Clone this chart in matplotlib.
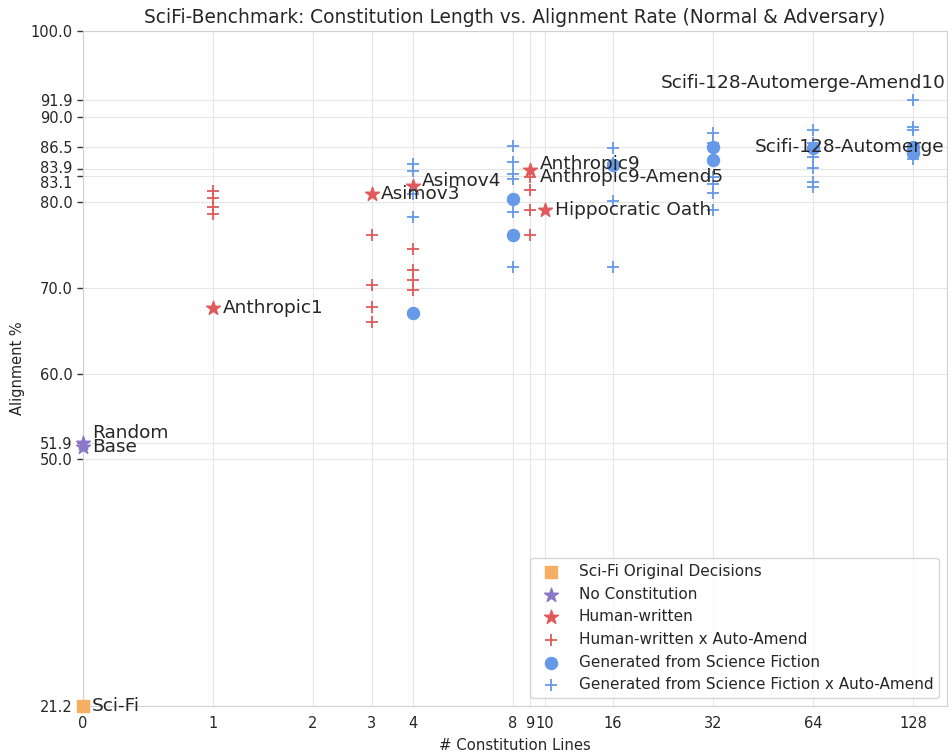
import numpy as np
import matplotlib
matplotlib.use("Agg")
import matplotlib.pyplot as plt
import matplotlib.transforms as mtransforms
import seaborn as sns

# ---- data ----
scifi_x = [0]
scifi_y = [21.2]

nocon_x = [0, 0]
nocon_y = [51.9, 51.4]

human_x = [1, 3, 4, 9, 10]
human_y = [67.7, 81.0, 81.9, 83.8, 79.1]

human_amend_x = [1, 1, 1, 1, 3, 3, 3, 3, 4, 4, 4, 4, 9, 9, 9, 9]
human_amend_y = [81.3, 80.5, 79.5, 78.6, 76.2, 70.3, 67.8, 66.0,
                 74.6, 72.1, 70.9, 69.8, 83.0, 81.4, 79.1, 76.2]

gen_x = [4, 8, 8, 16, 32, 32, 64, 128, 128]
gen_y = [67.1, 80.4, 76.2, 84.3, 86.5, 84.9, 86.3, 86.5, 85.7]

gen_amend_x = [4, 4, 4, 4, 8, 8, 8, 8, 8, 8, 16, 16, 16, 16,
               32, 32, 32, 32, 32, 32, 64, 64, 64, 64, 64, 64, 128, 128, 128, 128]
gen_amend_y = [84.5, 83.6, 81.0, 78.3, 86.6, 84.7, 83.3, 82.7, 78.9, 72.5,
               86.3, 84.6, 80.1, 72.5, 88.1, 86.9, 83.0, 82.1, 81.1, 79.1,
               88.4, 86.9, 85.3, 84.0, 82.4, 81.8, 91.9, 88.8, 88.4, 85.0]

# labelled points: (name, x, y)
labels = [("Sci-Fi", 0, 21.2), ("Random", 0, 51.9), ("Base", 0, 51.4),
          ("Anthropic1", 1, 67.7), ("Asimov3", 3, 81.0), ("Asimov4", 4, 81.9),
          ("Anthropic9", 9, 83.8), ("Anthropic9-Amend5", 9, 83.0),
          ("Hippocratic Oath", 10, 79.1), ("Scifi-128-Automerge", 128, 86.5),
          ("Scifi-128-Automerge-Amend10", 128, 91.9)]
label_offsets = [(9, 0), (9, 10), (9, 0), (10, 0), (9, 0), (9, 5),
                 (10, 6), (10, 0), (10, 0), (31, 0), (33, 17)]
label_ha = ["left"] * 9 + ["right", "right"]

xticks = [0, 1, 2, 3, 4, 8, 9, 10, 16, 32, 64, 128]
yticks = [21.2, 50.0, 51.9, 60.0, 70.0, 80.0, 83.1, 83.9, 86.5, 90.0, 91.9, 100.0]

orange = "#F5AE62"
purple = "#8B77C9"
red = "#E05A5A"
blue = "#6699E8"

sns.set_style("whitegrid", {"grid.color": ".9", "axes.edgecolor": ".82"})
plt.rcParams["font.family"] = ["DejaVu Sans"]

fig = plt.figure(figsize=(9.52, 7.54), dpi=100)
ax = fig.add_axes([83 / 952, 1 - 706 / 754, (947 - 83) / 952, (706 - 31) / 754])

ax.set_xscale("symlog", base=2, linthresh=1, linscale=0.65)

ax.scatter(scifi_x, scifi_y, marker="s", s=70, color=orange, zorder=3,
           clip_on=False, label="Sci-Fi Original Decisions")
ax.scatter(nocon_x, nocon_y, marker="*", s=110, color=purple, zorder=3,
           clip_on=False, label="No Constitution")
ax.scatter(human_x, human_y, marker="*", s=110, color=red, zorder=3,
           label="Human-written")
ax.scatter(human_amend_x, human_amend_y, marker="+", s=80, color=red,
           linewidths=1.3, zorder=3, label="Human-written x Auto-Amend")
ax.scatter(gen_x, gen_y, marker="o", s=75, color=blue, zorder=3,
           label="Generated from Science Fiction")
ax.scatter(gen_amend_x, gen_amend_y, marker="+", s=80, color=blue,
           linewidths=1.3, zorder=3,
           label="Generated from Science Fiction x Auto-Amend")

for (name, x, y), off, ha in zip(labels, label_offsets, label_ha):
    ax.annotate(name, (x, y), xytext=off, textcoords="offset pixels",
                ha=ha, va="center", fontsize=13.3, color=".15", zorder=4)

ax.set_xlim(0, 162)
ax.set_ylim(21.2, 100)
ax.set_xticks(xticks)
ax.set_xticklabels([str(v) for v in xticks])
ax.set_yticks(yticks)
ax.set_yticklabels([f"{v:.1f}" for v in yticks])
ax.tick_params(axis="both", labelsize=10.5, colors=".15")
ax.tick_params(axis="y", left=True, length=4, width=1, color=".2")

# pull the 83.9 / 83.1 labels apart a little
nudges = {83.9: 1.5, 83.1: -4.5}
for lab, v in zip(ax.get_yticklabels(), yticks):
    if v in nudges:
        lab.set_transform(lab.get_transform() +
                          mtransforms.ScaledTranslation(0, nudges[v] / 72, fig.dpi_scale_trans))

ax.set_xlabel("# Constitution Lines", fontsize=10.7, color=".15", labelpad=5)
ax.set_ylabel("Alignment %", fontsize=10.5, color=".15")
ax.set_title("SciFi-Benchmark: Constitution Length vs. Alignment Rate (Normal & Adversary)",
             fontsize=13.4, color=".15")

ax.legend(loc="lower right", fontsize=11, frameon=True, borderaxespad=0.5)

fig.savefig("out.png", dpi=100)
